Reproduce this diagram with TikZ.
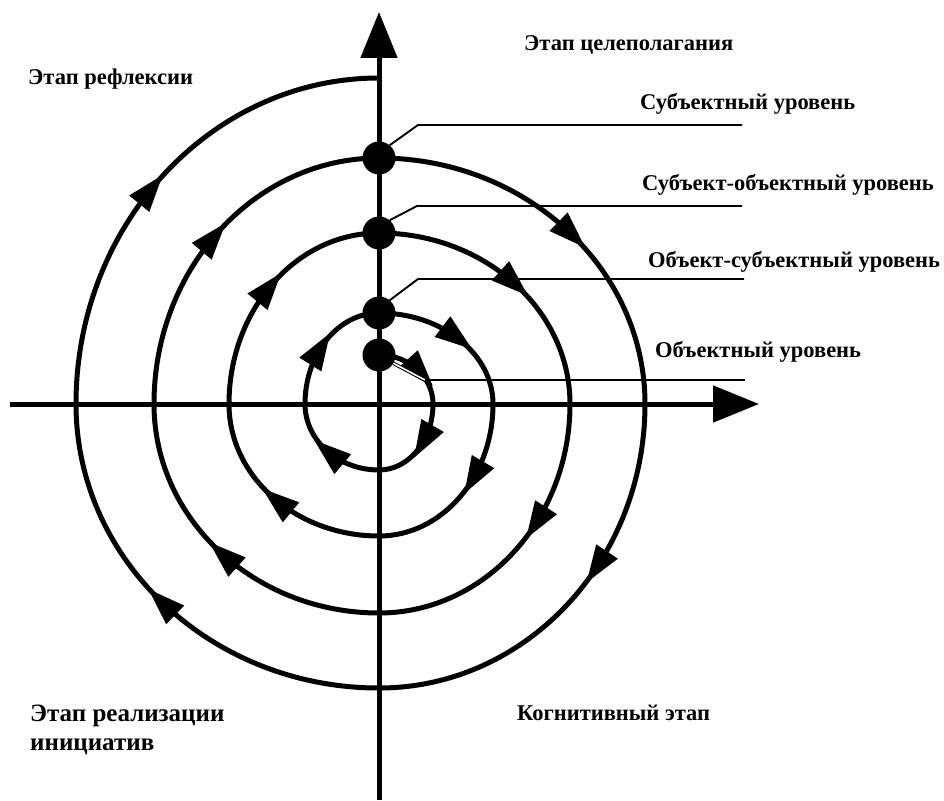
\documentclass[tikz,border=0pt]{standalone}
\usepackage{fontspec}
\setmainfont{Liberation Serif}
\usetikzlibrary{arrows.meta,decorations.markings}
\begin{document}
\begin{tikzpicture}[x=1pt,y=-1pt,
  spiralline/.style={line width=5pt},
  axisline/.style={line width=5pt,-{Triangle[length=46pt,width=36pt]}},
  dotnode/.style={circle,fill=black,inner sep=0pt,minimum size=33pt},
  leader/.style={line width=1.9pt},
  dleader/.style={line width=1pt,double=white,double distance=1.6pt},
  lbl/.style={font=\bfseries\fontsize{22.5}{27}\selectfont,anchor=base west,inner sep=0pt},
  biglbl/.style={font=\bfseries\fontsize{25}{29}\selectfont,anchor=base west,inner sep=0pt},
  tri/.style={postaction={decorate},decoration={markings,
     mark=at position #1 with {\fill (18,0) -- (-19,13) -- (-19,-13) -- cycle;}}}]
\useasboundingbox (0,0) rectangle (944,800);
\fill[white] (0,0) rectangle (944,800);

% axes
\draw[axisline] (10,404) -- (759,404);
\draw[axisline] (379,800) -- (379,12);

% spiral
\draw[spiralline]
 (379,355) .. controls (408.8,355) and (433,377.0) .. (433,404)
 .. controls (433,440.4) and (408.8,470) .. (379,470)
 .. controls (338.2,470) and (305,440.4) .. (305,404)
 .. controls (305,353.8) and (338.2,313) .. (379,313)
 .. controls (441.9,313) and (493,353.8) .. (493,404)
 .. controls (493,476.9) and (441.9,536) .. (379,536)
 .. controls (296.2,536) and (229,476.9) .. (229,404)
 .. controls (229,309.6) and (296.2,233) .. (379,233)
 .. controls (484.4,233) and (570,309.6) .. (570,404)
 .. controls (570,519.4) and (484.4,613) .. (379,613)
 .. controls (254.8,613) and (154,519.4) .. (154,404)
 .. controls (154,268.2) and (254.8,158) .. (379,158)
 .. controls (525.8,158) and (645,268.2) .. (645,404)
 .. controls (645,560.8) and (525.8,688) .. (379,688)
 .. controls (211.7,688) and (76,560.8) .. (76,404)
 .. controls (76,224) and (211.7,78) .. (379,78);

% arrowheads on the spiral
\path[tri=0.58] (379,355) .. controls (408.8,355) and (433,377.0) .. (433,404);
\path[tri=0.42] (433,404) .. controls (433,440.4) and (408.8,470) .. (379,470);
\path[tri=0.5] (379,470) .. controls (338.2,470) and (305,440.4) .. (305,404);
\path[tri=0.45] (305,404) .. controls (305,353.8) and (338.2,313) .. (379,313);
\path[tri=0.52] (379,313) .. controls (441.9,313) and (493,353.8) .. (493,404);
\path[tri=0.4] (493,404) .. controls (493,476.9) and (441.9,536) .. (379,536);
\path[tri=0.5] (379,536) .. controls (296.2,536) and (229,476.9) .. (229,404);
\path[tri=0.5] (229,404) .. controls (229,309.6) and (296.2,233) .. (379,233);
\path[tri=0.52] (379,233) .. controls (484.4,233) and (570,309.6) .. (570,404);
\path[tri=0.4] (570,404) .. controls (570,519.4) and (484.4,613) .. (379,613);
\path[tri=0.5] (379,613) .. controls (254.8,613) and (154,519.4) .. (154,404);
\path[tri=0.49] (154,404) .. controls (154,268.2) and (254.8,158) .. (379,158);
\path[tri=0.53] (379,158) .. controls (525.8,158) and (645,268.2) .. (645,404);
\path[tri=0.4] (645,404) .. controls (645,560.8) and (525.8,688) .. (379,688);
\path[tri=0.52] (379,688) .. controls (211.7,688) and (76,560.8) .. (76,404);
\path[tri=0.47] (76,404) .. controls (76,224) and (211.7,78) .. (379,78);

% level dots
\node[dotnode] (d1) at (379,158) {};
\node[dotnode] (d2) at (379,233) {};
\node[dotnode] (d3) at (379,313) {};
\node[dotnode] (d4) at (379,355) {};

% leaders
\coordinate (k1) at (418,125);
\coordinate (e1) at (742,125);
\coordinate (k2) at (417,206);
\coordinate (e2) at (742,206);
\coordinate (k3) at (418,279);
\coordinate (e3) at (744,279);
\coordinate (k4) at (425,380);
\coordinate (e4) at (745,380);
\draw[leader] (d1.50) -- (k1) -- (e1);
\draw[leader] (d2.50) -- (k2) -- (e2);
\draw[leader] (d3.50) -- (k3) -- (e3);
\draw[dleader] (d4.-30) -- (k4);
\draw[leader] (k4) -- (e4);

% labels
\node[lbl] (t1) at (524,51) {Этап целеполагания};
\node[lbl] (t2) at (28,84) {Этап рефлексии};
\node[lbl] (t3) at (640,109) {Субъектный уровень};
\node[lbl] (t4) at (642,190) {Субъект-объектный уровень};
\node[lbl] (t5) at (648,267) {Объект-субъектный уровень};
\node[lbl] (t6) at (655,357) {Объектный уровень};
\node[biglbl] (t7) at (30,721) {Этап реализации};
\node[biglbl] (t8) at (30,750) {инициатив};
\node[lbl] (t9) at (517,720) {Когнитивный этап};
\end{tikzpicture}
\end{document}
